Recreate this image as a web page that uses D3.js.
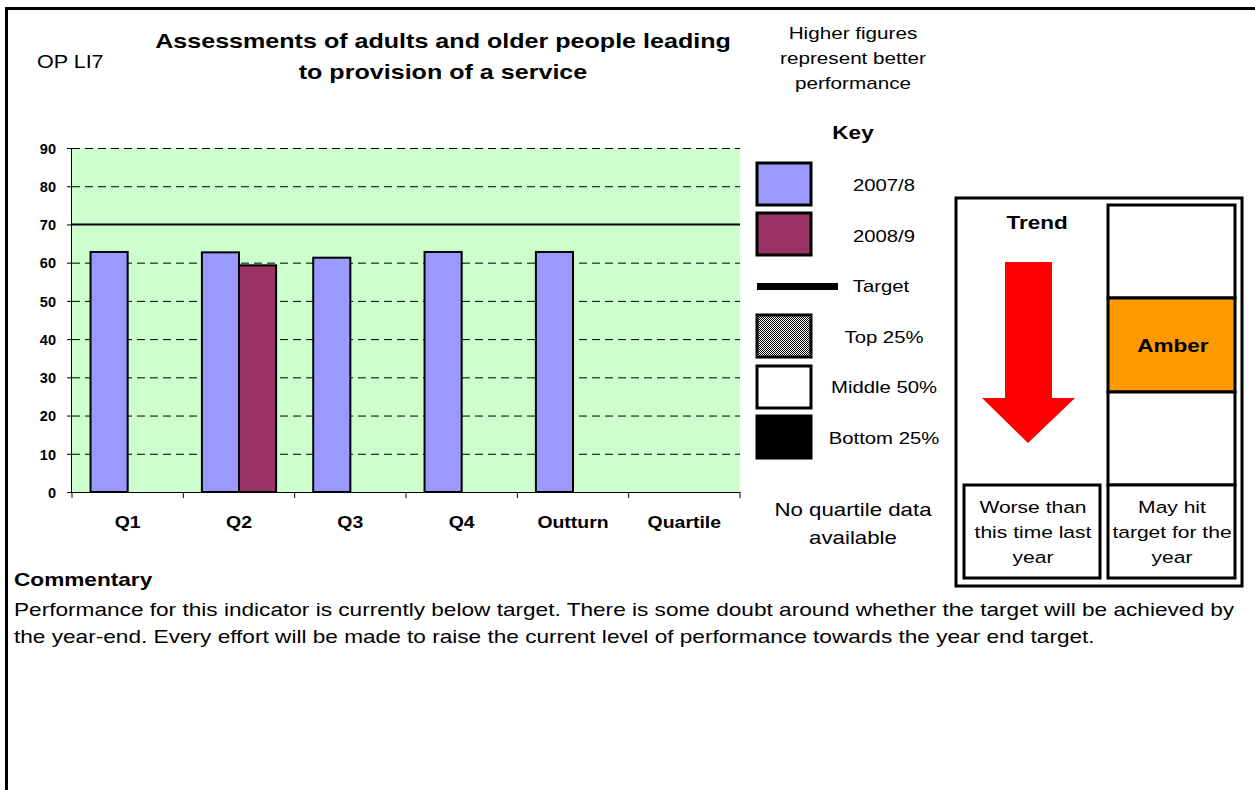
<!DOCTYPE html>
<html><head><meta charset="utf-8">
<script src="https://cdn.jsdelivr.net/npm/d3@7"></script>
<style>
html,body{margin:0;padding:0;background:#fff;}
svg{display:block;font-family:Arial,"Liberation Sans",sans-serif;}
</style></head>
<body>
<svg id="c" width="1255" height="790"></svg>
<script>
const categories = ["Q1","Q2","Q3","Q4","Outturn","Quartile"];
const seriesNames = ["2007/8","2008/9"];
const values2007 = [62.8, 62.7, 61.3, 62.8, 62.8, null];
const values2008 = [null, 59.3, null, null, null, null];
const target = 70;
const yTicks = [0,10,20,30,40,50,60,70,80,90];
const seriesColors = ["#9999ff","#993366"];
const titleLines = ["Assessments of adults and older people leading","to provision of a service"];
const noteLines = ["Higher figures","represent better","performance"];
const legendLabels = ["2007/8","2008/9","Target","Top 25%","Middle 50%","Bottom 25%"];
const commentary = ["Performance for this indicator is currently below target. There is some doubt around whether the target will be achieved by",
  "the year-end. Every effort will be made to raise the current level of performance towards the year end target."];

const SX = 1.23;
const svg = d3.select("#c");
function txt(parent, x, y, s, size, opts={}) {
  const t = parent.append("text")
    .attr("transform", `translate(${x},${y}) scale(${opts.sx||SX},1)`)
    .attr("font-size", size).attr("fill","#000").text(s);
  if (opts.anchor) t.attr("text-anchor", opts.anchor);
  if (opts.bold) t.attr("font-weight","bold");
  return t;
}

const defs = svg.append("defs");
const pat = defs.append("pattern").attr("id","chk").attr("width",2).attr("height",2).attr("patternUnits","userSpaceOnUse");
pat.append("rect").attr("width",2).attr("height",2).attr("fill","#fff");
pat.append("rect").attr("width",1).attr("height",1).attr("fill","#000");
pat.append("rect").attr("x",1).attr("y",1).attr("width",1).attr("height",1).attr("fill","#000");

// outer frame
svg.append("path").attr("d","M6.5,790 V8.5 H1255").attr("fill","none").attr("stroke","#000").attr("stroke-width",3);

// header texts
txt(svg, 37, 68, "OP LI7", 17.5);
titleLines.forEach((d,i)=>txt(svg, 443, 48+i*31, d, 20.4, {anchor:"middle", bold:true}));
noteLines.forEach((d,i)=>txt(svg, 853, 39+i*25, d, 16.8, {anchor:"middle"}));
txt(svg, 853, 139, "Key", 18.3, {anchor:"middle", bold:true});

// chart
const x0 = 72, x1 = 740, yTop = 148, yBot = 492;
const x = d3.scaleBand().domain(categories).range([x0,x1]).paddingInner(0).paddingOuter(0);
const y = d3.scaleLinear().domain([0,90]).range([yBot,yTop]);
const xs = d3.scaleBand().domain(seriesNames).range([0,x.bandwidth()]).paddingInner(0).paddingOuter(0.5);

const g = svg.append("g");
g.append("rect").attr("x",x0).attr("y",yTop).attr("width",x1-x0).attr("height",yBot-yTop).attr("fill","#ccffcc");
g.append("g").selectAll("line").data(yTicks.filter(t=>t>0 && t!==target)).join("line")
  .attr("x1",x0).attr("x2",x1).attr("y1",d=>y(d)+0.5).attr("y2",d=>y(d)+0.5)
  .attr("stroke","#000").attr("stroke-width",1).attr("stroke-dasharray","8,5");

const rows = categories.map((c,i)=>({c, v:[values2007[i], values2008[i]]}));
seriesNames.forEach((s,si)=>{
  g.append("g").selectAll("rect").data(rows.filter(r=>r.v[si]!=null)).join("rect")
    .attr("x",d=>x(d.c)+xs(s)).attr("width",xs.bandwidth())
    .attr("y",d=>y(d.v[si])).attr("height",d=>y(0)-y(d.v[si]))
    .attr("fill",seriesColors[si]).attr("stroke","#000").attr("stroke-width",2);
});
// target line
g.append("line").attr("x1",x0).attr("x2",x1).attr("y1",y(target)).attr("y2",y(target))
  .attr("stroke","#000").attr("stroke-width",2);

// axes
const yAxis = d3.axisLeft(y).tickValues(yTicks).tickSize(5).tickPadding(0).tickFormat(d3.format("d"));
const ya = svg.append("g").attr("transform",`translate(${x0},0)`).call(yAxis);
ya.select(".domain").attr("stroke","#000").attr("d",`M-0.5,${yTop}V${yBot}`);
ya.selectAll(".tick line").attr("stroke","#000");
ya.selectAll(".tick text").attr("x",0).attr("transform","translate(-16,0) scale(0.97,1)")
  .attr("font-size",15).attr("font-weight","bold").attr("font-family","Arial,'Liberation Sans',sans-serif").attr("fill","#000").attr("dy","0.35em");
const xAxis = d3.axisBottom(x).tickSize(0).tickPadding(0);
const xa = svg.append("g").attr("transform",`translate(0,${yBot})`).call(xAxis);
xa.select(".domain").attr("stroke","#000").attr("d",`M${x0},0.5H${x1}`);
xa.selectAll(".tick text").attr("y",0).attr("dy",0).attr("transform",`translate(0,36) scale(${SX},1)`)
  .attr("font-size",15.8).attr("font-weight","bold").attr("font-family","Arial,'Liberation Sans',sans-serif").attr("fill","#000");
xa.append("g").selectAll("line").data(categories.map(c=>x(c)).concat([x1])).join("line")
  .attr("x1",d=>d).attr("x2",d=>d).attr("y1",0).attr("y2",6).attr("stroke","#000");

// legend
const legY = [163,213,0,315,366,416];
const legFills = [seriesColors[0],seriesColors[1],null,"url(#chk)","#fff","#000"];
const lg = svg.append("g");
[0,1,3,4,5].forEach(i=>{
  lg.append("rect").attr("x",757).attr("y",legY[i]).attr("width",54).attr("height",42)
    .attr("fill",legFills[i]).attr("stroke","#000").attr("stroke-width",3);
});
lg.append("rect").attr("x",757).attr("y",283).attr("width",81).attr("height",7).attr("fill","#000");
const legTextPos = [[884,191],[884,242],[881,292],[884,343],[884,393],[884,444]];
legendLabels.forEach((t,i)=>txt(lg, legTextPos[i][0], legTextPos[i][1], t, 16.5, {anchor:"middle"}));
["No quartile data","available"].forEach((d,i)=>txt(svg, 853, 516+i*28, d, 18.1, {anchor:"middle"}));

// trend box
const tb = svg.append("g");
tb.append("rect").attr("x",956).attr("y",198).attr("width",286).attr("height",388).attr("fill","#fff").attr("stroke","#000").attr("stroke-width",3);
txt(tb, 1037, 229, "Trend", 18.3, {anchor:"middle", bold:true});
tb.append("path").attr("d","M1005,262 H1052 V398 H1075 L1028,443 L982,398 H1005 Z").attr("fill","#ff0000");
const cells = [[205,298,"#fff"],[298,392,"#ff9900"],[392,485,"#fff"],[485,578,"#fff"]];
cells.forEach(c=>{
  tb.append("rect").attr("x",1108).attr("y",c[0]).attr("width",127).attr("height",c[1]-c[0])
    .attr("fill",c[2]).attr("stroke","#000").attr("stroke-width",3);
});
txt(tb, 1173, 352, "Amber", 18.3, {anchor:"middle", bold:true});
tb.append("rect").attr("x",964).attr("y",485).attr("width",136).attr("height",93).attr("fill","#fff").attr("stroke","#000").attr("stroke-width",3);
["Worse than","this time last","year"].forEach((d,i)=>txt(tb, 1033, 513+i*25, d, 17.1, {anchor:"middle"}));
["May hit","target for the","year"].forEach((d,i)=>txt(tb, 1172, 513+i*25, d, 17.1, {anchor:"middle"}));

// commentary
txt(svg, 14, 586, "Commentary", 18.4, {bold:true});
commentary.forEach((d,i)=>txt(svg, 14, 616+i*27, d, 18.4));
</script>
</body></html>
